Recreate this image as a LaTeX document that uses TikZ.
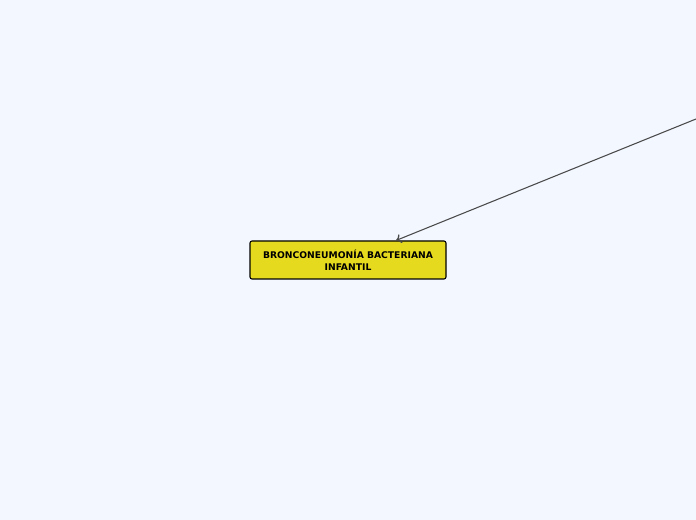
\documentclass[tikz,border=0pt]{standalone}
\usepackage{fontspec}
\setmainfont{DejaVu Sans}
\usetikzlibrary{positioning, arrows.meta}
\definecolor{bgblue}{HTML}{F3F7FF}
\definecolor{topicyellow}{HTML}{E6DA1E}
\definecolor{linegray}{HTML}{4A4A4A}
\begin{document}
\begin{tikzpicture}[x = 0.75pt, y = -0.75pt, topic/.style = {draw = black, fill = topicyellow, rounded corners = 1.5pt, line width = 0.8pt, minimum width = 147pt, minimum height = 28.5pt, align = center, inner sep = 0pt, font = \fontsize{6.9}{9}\selectfont\bfseries}]
					\fill[bgblue] (0, 0) rectangle (696, 520);
					\useasboundingbox (0, 0) rectangle (696, 520);
					\node[topic] (main) at (348, 260) {BRONCONEUMONÍA BACTERIANA\\INFANTIL};
					\coordinate (src) at (696, 119);
					\draw[linegray, -{To[length = 4pt, width = 7pt, line width = 1pt]}, line width = 0.8pt] (src)--(main.north -| 396, 0);
				\end{tikzpicture}
\end{document}
